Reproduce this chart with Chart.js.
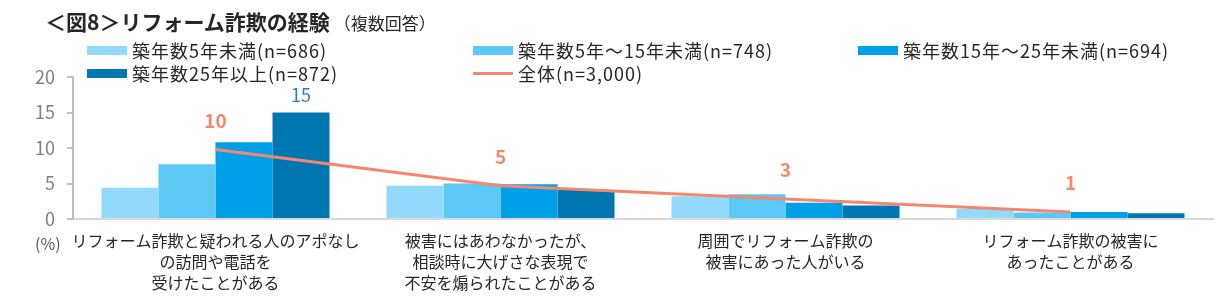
<!DOCTYPE html>
<html lang="ja">
<head>
<meta charset="utf-8">
<script src="https://cdn.jsdelivr.net/npm/chart.js@4"></script>
<style>
  body { margin: 0; background: #fff; font-family: 'Noto Sans CJK JP', sans-serif; }
  #wrap { position: relative; width: 1216px; height: 305px; overflow: hidden; }
  #chart { position: absolute; left: 0; top: 0; }
  .title { position: absolute; left: 45px; top: 6px; font-size: 21px; font-weight: bold; color: #262626; white-space: nowrap; }
  .title small { font-size: 17px; font-weight: normal; margin-left: 4px; }
  .leg { position: absolute; font-size: 18px; letter-spacing: 1px; color: #262626; white-space: nowrap; line-height: 20px; }
  .leg i { position: absolute; left: -45px; top: 6px; width: 40px; height: 9px; }
  .leg i.line { top: 9px; height: 3px; }
  .unit { position: absolute; left: 35px; top: 231px; font-size: 16px; color: #595959; }
</style>
</head>
<body>
<div id="wrap">
  <canvas id="chart" width="1216" height="305"></canvas>
  <div class="title">＜図8＞リフォーム詐欺の経験<small>（複数回答）</small></div>
  <div id="legend"></div>
  <div class="unit">(%)</div>
</div>
<script>
// --- datos ---
const categorias = [
  ['リフォーム詐欺と疑われる人のアポなし', 'の訪問や電話を', '受けたことがある'],
  ['被害にはあわなかったが、', '相談時に大げさな表現で', '不安を煽られたことがある'],
  ['周囲でリフォーム詐欺の', '被害にあった人がいる'],
  ['リフォーム詐欺の被害に', 'あったことがある']
];
const nombres = ['築年数5年未満(n=686)', '築年数5年～15年未満(n=748)', '築年数15年～25年未満(n=694)', '築年数25年以上(n=872)'];
const nombreTotal = '全体(n=3,000)';
const menos5 = [4.4, 4.7, 3.2, 1.4];
const de5a15 = [7.7, 5.0, 3.5, 0.9];
const de15a25 = [10.8, 4.9, 2.3, 1.0];
const mas25 = [15.0, 4.1, 1.9, 0.8];
const total = [9.8, 4.7, 2.8, 1.0];
const etiquetaMas25 = [true, false, false, false]; // solo se rotula la primera barra
const ticksY = [0, 5, 10, 15, 20];

const colores = ['#93D9FB', '#5BC8F6', '#00A0E9', '#0077B1'];
const colorLinea = '#F4876E';

// --- leyenda (html) ---
const legendItems = [
  { text: nombres[0], color: colores[0], x: 132, y: 40 },
  { text: nombres[1], color: colores[1], x: 518, y: 40 },
  { text: nombres[2], color: colores[2], x: 903, y: 40 },
  { text: nombres[3], color: colores[3], x: 132, y: 63 },
  { text: nombreTotal, color: colorLinea, x: 518, y: 63, line: true }
];
const legend = document.getElementById('legend');
legendItems.forEach(it => {
  const d = document.createElement('div');
  d.className = 'leg';
  d.style.left = it.x + 'px';
  d.style.top = it.y + 'px';
  d.innerHTML = `<i class="${it.line ? 'line' : ''}" style="background:${it.color}"></i>${it.text}`;
  legend.appendChild(d);
});

// --- etiquetas de datos ---
const etiquetas = {
  id: 'etiquetas',
  afterDatasetsDraw(chart) {
    const ctx = chart.ctx;
    ctx.save();
    ctx.textAlign = 'center';
    ctx.textBaseline = 'middle';
    // línea total
    const metaL = chart.getDatasetMeta(0);
    ctx.fillStyle = '#F08A6E';
    ctx.font = 'bold 19px "Noto Sans CJK JP", sans-serif';
    metaL.data.forEach((p, i) => {
      ctx.fillText(Math.round(total[i]), p.x, p.y - 29);
    });
    // barras 25 años o más
    const metaB = chart.getDatasetMeta(4);
    ctx.fillStyle = '#2A80B4';
    ctx.font = '18px "Noto Sans CJK JP", sans-serif';
    metaB.data.forEach((b, i) => {
      if (etiquetaMas25[i]) ctx.fillText(Math.round(mas25[i]), b.x, b.y - 17);
    });
    ctx.restore();
  }
};

const ctx = document.getElementById('chart').getContext('2d');
new Chart(ctx, {
  data: {
    labels: categorias,
    datasets: [
      { type: 'line', label: nombreTotal, data: total, borderColor: colorLinea, borderWidth: 3, pointRadius: 0, tension: 0 },
      { type: 'bar', label: nombres[0], data: menos5, backgroundColor: colores[0] },
      { type: 'bar', label: nombres[1], data: de5a15, backgroundColor: colores[1] },
      { type: 'bar', label: nombres[2], data: de15a25, backgroundColor: colores[2] },
      { type: 'bar', label: nombres[3], data: mas25, backgroundColor: colores[3] }
    ]
  },
  options: {
    responsive: false,
    animation: false,
    datasets: { bar: { categoryPercentage: 0.8, barPercentage: 1.0 } },
    layout: { padding: { top: 77, right: 3, left: 0, bottom: 0 } },
    scales: {
      x: {
        grid: { display: false, drawTicks: false },
        border: { display: true, color: '#D9D9D9', width: 2 },
        ticks: {
          padding: 12,
          color: '#262626',
          font: { family: '"Noto Sans CJK JP", sans-serif', size: 16, lineHeight: 1.3 },
          maxRotation: 0,
          autoSkip: false
        },
        afterFit(scale) { scale.height = 86; }
      },
      y: {
        min: 0,
        max: 20,
        afterBuildTicks(scale) { scale.ticks = ticksY.map(v => ({ value: v })); },
        grid: { drawOnChartArea: false, drawTicks: true, tickLength: 6, color: '#BFBFBF', lineWidth: 2 },
        border: { display: true, color: '#BFBFBF', width: 2 },
        ticks: {
          padding: 12,
          color: '#7F7F7F',
          font: { family: '"Noto Sans CJK JP", sans-serif', size: 18 }
        },
        afterFit(scale) { scale.width = 73; }
      }
    },
    plugins: {
      legend: { display: false },
      tooltip: { enabled: false }
    }
  },
  plugins: [etiquetas]
});
</script>
</body>
</html>
